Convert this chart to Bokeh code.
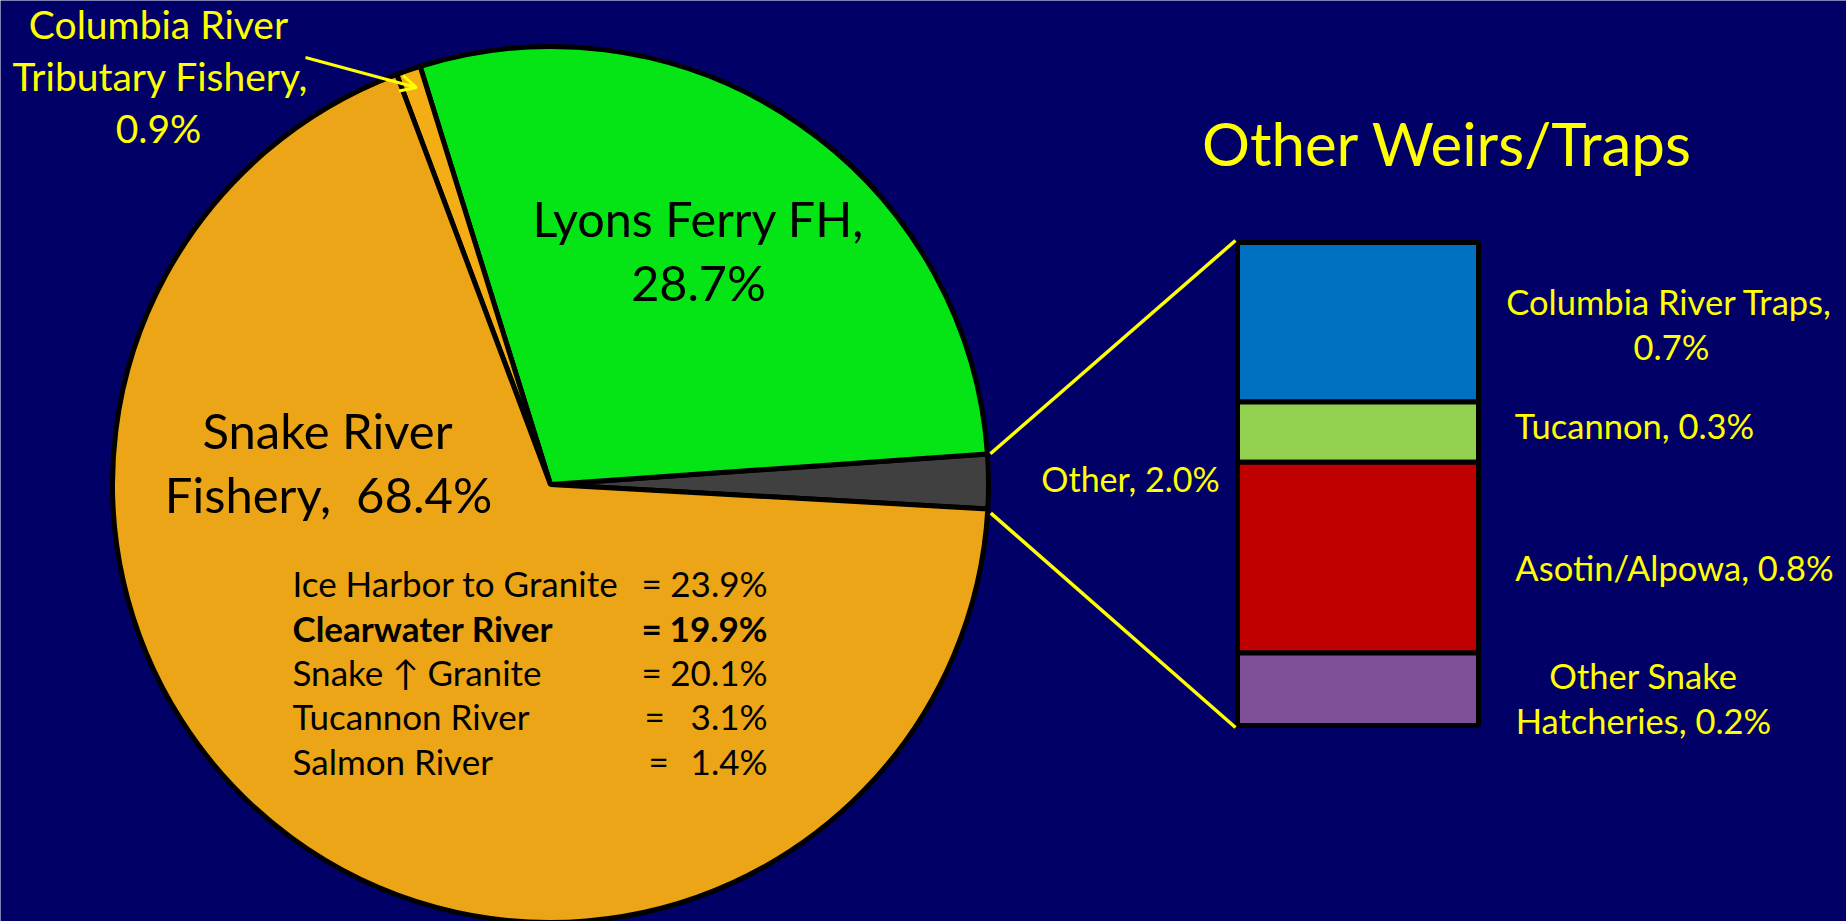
import math
from bokeh.plotting import figure
from bokeh.models import Range1d, ColumnDataSource, Arrow, OpenHead
from bokeh.core.properties import value
from bokeh.embed import file_html
from bokeh.resources import INLINE

# ---------------- data ----------------
pie_labels = ["Other", "Lyons Ferry FH", "Columbia River Tributary Fishery", "Snake River Fishery"]
pie_values = [2.0, 28.7, 0.9, 68.4]
pie_colors = ["#404040", "#05E515", "#F4AD14", "#ECA516"]

snake_sub_labels = ["Ice Harbor to Granite", "Clearwater River", "Snake \u2191 Granite", "Tucannon River", "Salmon River"]
snake_sub_values = [23.9, 19.9, 20.1, 3.1, 1.4]

other_labels = ["Columbia River Traps", "Tucannon", "Asotin/Alpowa", "Other Snake Hatcheries"]
other_values = [0.7, 0.3, 0.8, 0.2]          # values printed in the labels
other_bar_heights = [0.66, 0.25, 0.79, 0.30]  # segment heights as drawn
other_colors = ["#0070C0", "#92D050", "#C00000", "#7F5097"]

title_text = "Other Weirs/Traps"

# ---------------- layout ----------------
BG = "#000066"
YEL = "#FFFF00"
FONT = value("Lato")
W, H = 1846, 921
NB = "\u00a0"


def Y(sy):  # screen y -> data y
    return H - sy


p = figure(width=W, height=H, x_range=Range1d(0, W), y_range=Range1d(0, H),
           x_axis_type=None, y_axis_type=None, toolbar_location=None,
           output_backend="svg", min_border=0, background_fill_color=BG,
           border_fill_color=BG, outline_line_color=None)
p.grid.visible = False

# ---- pie ----
cx, cy, R = 550, 484, 438
start0 = -3.2
starts, ends = [], []
a = start0
for v in pie_values:
    starts.append(math.radians(a))
    a += v * 3.6
    ends.append(math.radians(a))
src = ColumnDataSource(dict(start=starts, end=ends, color=pie_colors))
p.wedge(x=cx, y=Y(cy), radius=R, start_angle="start", end_angle="end",
        fill_color="color", line_color="black", line_width=5, source=src)

# ---- stacked bar for "Other" ----
bx0, bx1, btop, bbot = 1237, 1478, 242, 725
scale = (bbot - btop) / sum(other_bar_heights)
tops, bots = [], []
yy = btop
for h in other_bar_heights:
    tops.append(Y(yy))
    yy += h * scale
    bots.append(Y(yy))
p.quad(left=bx0, right=bx1, top=tops, bottom=bots, fill_color=other_colors,
       line_color="black", line_width=5)

# connector lines from the "Other" wedge to the bar
a_top = ends[0]
a_bot = starts[0]
r2 = R + 3
p.segment(x0=[cx + r2 * math.cos(a_top), cx + r2 * math.cos(a_bot)],
          y0=[Y(cy) + r2 * math.sin(a_top), Y(cy) + r2 * math.sin(a_bot) - 4],
          x1=[bx0 - 2, bx0 - 2], y1=[Y(btop - 2), Y(bbot + 2)],
          line_color=YEL, line_width=3.5)

# ---- texts ----
def txt(x, y, s, size, color=YEL, align="center", style="normal"):
    p.text(x=[x], y=[Y(y)], text=[s], text_font=FONT, text_font_size=f"{size}px",
           text_color=color, text_align=align, text_baseline="middle",
           text_font_style=style)

txt(1447, 142, title_text, 60)

# Columbia River Tributary Fishery label + arrow
txt(158, 23, "Columbia River", 39)
txt(160, 75, "Tributary Fishery,", 39)
txt(158, 127, f"{pie_values[2]:.1f}%", 39)
p.add_layout(Arrow(end=OpenHead(size=16, line_color=YEL, line_width=3),
                   x_start=305, y_start=Y(57), x_end=416, y_end=Y(87),
                   line_color=YEL, line_width=3))

# Lyons Ferry
txt(698, 217, "Lyons Ferry FH,", 48.5, color="black")
txt(698, 281, f"{pie_values[1]:.1f}%", 48.5, color="black")

# Snake River
txt(327, 429, "Snake River", 49, color="black")
txt(328, 493, f"Fishery,{NB}{NB}{pie_values[3]:.1f}%", 49, color="black")

rows_y = [582, 627, 671, 715, 760]
eq_x = [641, 641, 641, 644, 648]
for i, (lab, v) in enumerate(zip(snake_sub_labels, snake_sub_values)):
    st = "bold" if i == 1 else "normal"
    txt(292, rows_y[i], lab, 35, color="black", align="left", style=st)
    txt(eq_x[i], rows_y[i], "=", 35, color="black", align="left", style=st)
    txt(767, rows_y[i], f"{v:.1f}%", 35, color="black", align="right", style=st)

# Other
txt(1130, 478, f"{pie_labels[0]}, {pie_values[0]:.1f}%", 34)

# right-side labels
txt(1669, 301, f"{other_labels[0]},", 34.5)
txt(1671, 346, f"{other_values[0]:.1f}%", 34.5)
txt(1634, 425, f"{other_labels[1]}, {other_values[1]:.1f}%", 34.5)
txt(1674, 567, f"{other_labels[2]}, {other_values[2]:.1f}%", 34.5)
txt(1643, 675, "Other Snake", 34.5)
txt(1643, 720, f"Hatcheries, {other_values[3]:.1f}%", 34.5)

open("out.html", "w").write(file_html(p, INLINE))
